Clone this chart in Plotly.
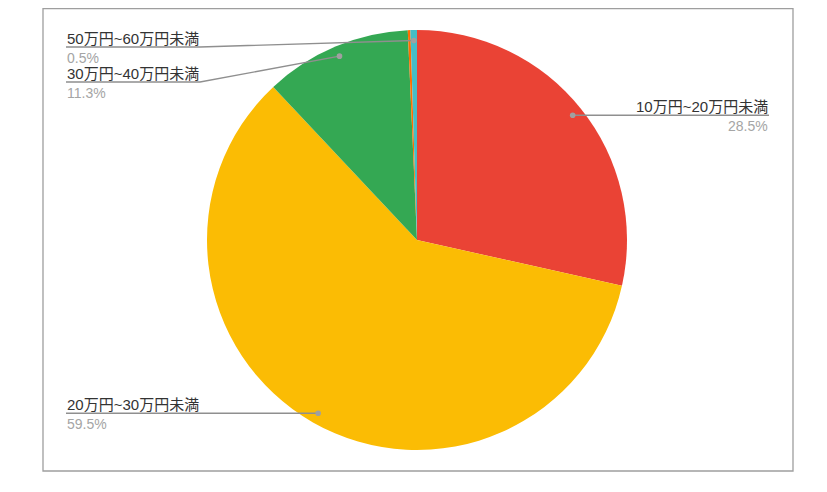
import math
import plotly.graph_objects as go

# ---- data ----
labels = ["10万円~20万円未満", "20万円~30万円未満", "30万円~40万円未満", "40万円~50万円未満", "50万円~60万円未満"]
values = [28.5, 59.5, 11.3, 0.2, 0.5]
colors = ["#EA4335", "#FBBC04", "#34A853", "#FF6D01", "#46BDC6"]
show_label = [True, True, True, False, True]
pct_text = ["28.5%", "59.5%", "11.3%", "", "0.5%"]

W, H = 827, 492
OFF = 8  # page body offset
CX, CY, R = 417, 240, 210

def px(x):
    return (x - OFF) / W

def py(y):
    return 1 - (y - OFF) / H

fig = go.Figure(go.Pie(
    labels=labels, values=values, sort=False, direction="clockwise", rotation=0,
    marker=dict(colors=colors, line=dict(width=0)),
    textinfo="none", hoverinfo="label+percent", showlegend=False,
    domain=dict(x=[px(CX - R), px(CX + R)], y=[py(CY + R), py(CY - R)]),
))

shapes = [dict(type="rect", xref="paper", yref="paper", x0=px(43), x1=px(793), y0=py(471), y1=py(8.7),
               line=dict(color="#9e9e9e", width=1.3))]
annotations = []

# label layout (side, elbow y, text x)
layout_info = {
    0: ("right", None, 769),
    1: ("left", None, 66),
    2: ("left", 82, 66),
    4: ("left", 47, 66),
}

FONT = "Arial, 'Noto Sans CJK JP'"
total = sum(values)
cum = 0.0
for i, v in enumerate(values):
    mid = (cum + v / 2) / total * 2 * math.pi
    cum += v
    if not show_label[i]:
        continue
    dx = math.sin(mid) * R * 0.95
    dy = -math.cos(mid) * R * 0.95
    dotx, doty = CX + dx, CY + dy
    side, ey, tx = layout_info[i]
    if ey is None:
        ey = doty
    if side == "left":
        elx = 200 if abs(ey - doty) > 1 else dotx
    else:
        elx = dotx
    path = f"M {px(dotx)} {py(doty)} L {px(elx)} {py(ey)} L {px(tx)} {py(ey)}"
    shapes.append(dict(type="path", xref="paper", yref="paper", path=path,
                       line=dict(color="#8f8f8f", width=1.4)))
    shapes.append(dict(type="circle", xref="paper", yref="paper",
                       x0=px(dotx - 2.8), x1=px(dotx + 2.8), y0=py(doty + 2.8), y1=py(doty - 2.8),
                       fillcolor="#a0a0a0", line=dict(width=0)))
    xanchor = "left" if side == "left" else "right"
    annotations.append(dict(x=px(tx), y=py(ey + 1), xref="paper", yref="paper", text=labels[i],
                            showarrow=False, xanchor=xanchor, yanchor="bottom", borderpad=0,
                            font=dict(size=15, color="#333333", family=FONT)))
    annotations.append(dict(x=px(tx), y=py(ey + 2), xref="paper", yref="paper", text=pct_text[i],
                            showarrow=False, xanchor=xanchor, yanchor="top", borderpad=0,
                            font=dict(size=14, color="#a5a5a5", family=FONT)))

fig.update_layout(
    width=W, height=H, margin=dict(l=0, r=0, t=0, b=0),
    paper_bgcolor="white", plot_bgcolor="white",
    shapes=shapes, annotations=annotations,
)

fig.write_html("out.html")
